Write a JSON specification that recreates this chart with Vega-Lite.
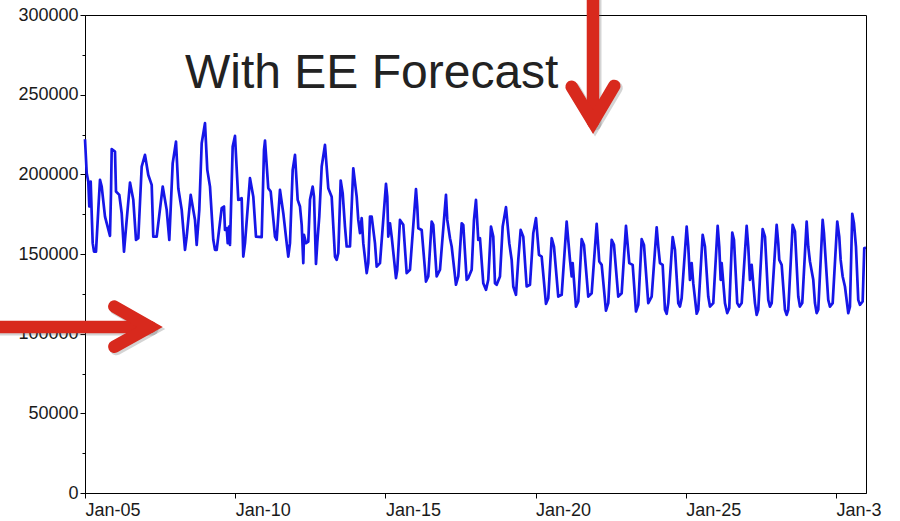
{
  "$schema": "https://vega.github.io/schema/vega-lite/v6.json",
  "width": 781,
  "height": 478,
  "autosize": "none",
  "padding": {"left": 85, "top": 15, "right": 34, "bottom": 28},
  "background": "white",
  "config": {
    "view": {"stroke": "#000", "strokeWidth": 1},
    "font": "Liberation Sans",
    "axis": {"labelFont": "Liberation Sans", "labelFontSize": 18, "labelColor": "#1a1a1a", "tickColor": "#000", "domainColor": "#000", "grid": false, "title": null}
  },
  "datasets": {
    "load": [
      {"t": "2015-01-05T00:00:00Z", "v": 222000}, {"t": "2015-01-05T01:22:00Z", "v": 200700}, {"t": "2015-01-05T02:38:00Z", "v": 195400}, {"t": "2015-01-05T03:26:00Z", "v": 179800}, {"t": "2015-01-05T04:33:00Z", "v": 195400}, {"t": "2015-01-05T05:21:00Z", "v": 175600}, {"t": "2015-01-05T06:09:00Z", "v": 156800}, {"t": "2015-01-05T07:11:00Z", "v": 151500}, {"t": "2015-01-05T08:47:00Z", "v": 151500}, {"t": "2015-01-05T10:37:00Z", "v": 177700}, {"t": "2015-01-05T11:59:00Z", "v": 196500}, {"t": "2015-01-05T13:21:00Z", "v": 192300}, {"t": "2015-01-05T15:59:00Z", "v": 173500}, {"t": "2015-01-05T19:58:00Z", "v": 161400}, {"t": "2015-01-05T20:46:00Z", "v": 188200}, {"t": "2015-01-05T21:20:00Z", "v": 215800}, {"t": "2015-01-05T23:58:00Z", "v": 214300},
      {"t": "2015-01-06T00:46:00Z", "v": 189200}, {"t": "2015-01-06T03:24:00Z", "v": 187100}, {"t": "2015-01-06T05:19:00Z", "v": 175600}, {"t": "2015-01-06T07:10:00Z", "v": 151500}, {"t": "2015-01-06T09:19:00Z", "v": 171400}, {"t": "2015-01-06T11:57:00Z", "v": 194800}, {"t": "2015-01-06T14:35:00Z", "v": 184000}, {"t": "2015-01-06T16:45:00Z", "v": 158900}, {"t": "2015-01-06T18:35:00Z", "v": 159900}, {"t": "2015-01-06T21:18:00Z", "v": 204900}, {"t": "2015-01-06T23:56:00Z", "v": 212200},
      {"t": "2015-01-07T02:34:00Z", "v": 199600}, {"t": "2015-01-07T05:17:00Z", "v": 193400}, {"t": "2015-01-07T06:34:00Z", "v": 160900}, {"t": "2015-01-07T09:17:00Z", "v": 160900}, {"t": "2015-01-07T14:05:00Z", "v": 192300}, {"t": "2015-01-07T17:16:00Z", "v": 177700}, {"t": "2015-01-07T19:21:00Z", "v": 158900}, {"t": "2015-01-07T22:04:00Z", "v": 207000},
      {"t": "2015-01-08T00:42:00Z", "v": 220500}, {"t": "2015-01-08T02:32:00Z", "v": 191300}, {"t": "2015-01-08T05:16:00Z", "v": 177700}, {"t": "2015-01-08T07:54:00Z", "v": 152600}, {"t": "2015-01-08T09:15:00Z", "v": 160900}, {"t": "2015-01-08T12:27:00Z", "v": 187100}, {"t": "2015-01-08T15:53:00Z", "v": 171400}, {"t": "2015-01-08T17:14:00Z", "v": 155700}, {"t": "2015-01-08T19:19:00Z", "v": 177700}, {"t": "2015-01-08T21:14:00Z", "v": 219500}, {"t": "2015-01-08T23:52:00Z", "v": 232100},
      {"t": "2015-01-09T01:43:00Z", "v": 202800}, {"t": "2015-01-09T03:52:00Z", "v": 192300}, {"t": "2015-01-09T06:30:00Z", "v": 158900}, {"t": "2015-01-09T07:52:00Z", "v": 152600}, {"t": "2015-01-09T09:13:00Z", "v": 152600}, {"t": "2015-01-09T13:13:00Z", "v": 178800}, {"t": "2015-01-09T15:03:00Z", "v": 179800}, {"t": "2015-01-09T15:51:00Z", "v": 165100}, {"t": "2015-01-09T17:13:00Z", "v": 166200}, {"t": "2015-01-09T18:01:00Z", "v": 156800}, {"t": "2015-01-09T19:03:00Z", "v": 167200}, {"t": "2015-01-09T19:51:00Z", "v": 155700}, {"t": "2015-01-09T22:00:00Z", "v": 217400}, {"t": "2015-01-09T23:50:00Z", "v": 224100},
      {"t": "2015-01-10T02:29:00Z", "v": 184000}, {"t": "2015-01-10T05:11:00Z", "v": 185000}, {"t": "2015-01-10T06:28:00Z", "v": 148400}, {"t": "2015-01-10T07:50:00Z", "v": 156800}, {"t": "2015-01-10T11:49:00Z", "v": 197600}, {"t": "2015-01-10T14:28:00Z", "v": 186000}, {"t": "2015-01-10T16:37:00Z", "v": 160900}, {"t": "2015-01-10T21:10:00Z", "v": 160600}, {"t": "2015-01-10T23:01:00Z", "v": 215300}, {"t": "2015-01-10T23:49:00Z", "v": 221200},
      {"t": "2015-01-11T02:26:00Z", "v": 191300}, {"t": "2015-01-11T04:22:00Z", "v": 189200}, {"t": "2015-01-11T07:48:00Z", "v": 160900}, {"t": "2015-01-11T09:09:00Z", "v": 158900}, {"t": "2015-01-11T11:47:00Z", "v": 190200}, {"t": "2015-01-11T14:26:00Z", "v": 175600}, {"t": "2015-01-11T17:08:00Z", "v": 156800}, {"t": "2015-01-11T18:25:00Z", "v": 148400}, {"t": "2015-01-11T19:47:00Z", "v": 156800}, {"t": "2015-01-11T21:56:00Z", "v": 202800}, {"t": "2015-01-11T23:47:00Z", "v": 212200},
      {"t": "2015-01-12T01:56:00Z", "v": 184000}, {"t": "2015-01-12T03:46:00Z", "v": 179800}, {"t": "2015-01-12T05:08:00Z", "v": 168300}, {"t": "2015-01-12T06:25:00Z", "v": 144300}, {"t": "2015-01-12T06:58:00Z", "v": 162000}, {"t": "2015-01-12T08:34:00Z", "v": 156800}, {"t": "2015-01-12T10:24:00Z", "v": 157800}, {"t": "2015-01-12T11:46:00Z", "v": 184000}, {"t": "2015-01-12T13:55:00Z", "v": 192300}, {"t": "2015-01-12T14:58:00Z", "v": 186000}, {"t": "2015-01-12T16:33:00Z", "v": 143800}, {"t": "2015-01-12T17:35:00Z", "v": 156800}, {"t": "2015-01-12T19:11:00Z", "v": 173500}, {"t": "2015-01-12T21:07:00Z", "v": 204900}, {"t": "2015-01-12T23:44:00Z", "v": 218500},
      {"t": "2015-01-13T02:23:00Z", "v": 191300}, {"t": "2015-01-13T05:05:00Z", "v": 186000}, {"t": "2015-01-13T07:44:00Z", "v": 148400}, {"t": "2015-01-13T09:05:00Z", "v": 146300}, {"t": "2015-01-13T10:22:00Z", "v": 150500}, {"t": "2015-01-13T12:17:00Z", "v": 196100}, {"t": "2015-01-13T13:53:00Z", "v": 188200}, {"t": "2015-01-13T15:43:00Z", "v": 167200}, {"t": "2015-01-13T17:05:00Z", "v": 154700}, {"t": "2015-01-13T19:43:00Z", "v": 154700}, {"t": "2015-01-13T22:21:00Z", "v": 203800},
      {"t": "2015-01-14T01:04:00Z", "v": 186000}, {"t": "2015-01-14T02:21:00Z", "v": 171400}, {"t": "2015-01-14T03:43:00Z", "v": 163100}, {"t": "2015-01-14T05:04:00Z", "v": 172500}, {"t": "2015-01-14T06:21:00Z", "v": 156800}, {"t": "2015-01-14T09:04:00Z", "v": 138000}, {"t": "2015-01-14T10:20:00Z", "v": 144300}, {"t": "2015-01-14T11:42:00Z", "v": 173500}, {"t": "2015-01-14T13:03:00Z", "v": 173500}, {"t": "2015-01-14T15:41:00Z", "v": 156800}, {"t": "2015-01-14T17:03:00Z", "v": 142100}, {"t": "2015-01-14T19:41:00Z", "v": 144300},
      {"t": "2015-01-15T00:29:00Z", "v": 194000}, {"t": "2015-01-15T01:31:00Z", "v": 186000}, {"t": "2015-01-15T02:19:00Z", "v": 160900}, {"t": "2015-01-15T03:40:00Z", "v": 169300}, {"t": "2015-01-15T05:02:00Z", "v": 160900}, {"t": "2015-01-15T08:28:00Z", "v": 134900}, {"t": "2015-01-15T09:30:00Z", "v": 140100}, {"t": "2015-01-15T11:40:00Z", "v": 171400}, {"t": "2015-01-15T14:18:00Z", "v": 168300}, {"t": "2015-01-15T17:01:00Z", "v": 138000}, {"t": "2015-01-15T19:39:00Z", "v": 140100},
      {"t": "2015-01-16T00:27:00Z", "v": 190700}, {"t": "2015-01-16T01:29:00Z", "v": 179800}, {"t": "2015-01-16T02:17:00Z", "v": 166200}, {"t": "2015-01-16T05:00:00Z", "v": 165100}, {"t": "2015-01-16T08:26:00Z", "v": 132700}, {"t": "2015-01-16T10:16:00Z", "v": 135900}, {"t": "2015-01-16T12:59:00Z", "v": 170400}, {"t": "2015-01-16T14:16:00Z", "v": 168300}, {"t": "2015-01-16T16:59:00Z", "v": 135900}, {"t": "2015-01-16T19:37:00Z", "v": 140100},
      {"t": "2015-01-17T00:25:00Z", "v": 187100}, {"t": "2015-01-17T01:27:00Z", "v": 171400}, {"t": "2015-01-17T03:37:00Z", "v": 159900}, {"t": "2015-01-17T04:58:00Z", "v": 154700}, {"t": "2015-01-17T08:24:00Z", "v": 130700}, {"t": "2015-01-17T10:14:00Z", "v": 135900}, {"t": "2015-01-17T12:58:00Z", "v": 169300}, {"t": "2015-01-17T14:14:00Z", "v": 168300}, {"t": "2015-01-17T16:57:00Z", "v": 133800}, {"t": "2015-01-17T18:14:00Z", "v": 134900}, {"t": "2015-01-17T20:57:00Z", "v": 140100}, {"t": "2015-01-17T22:47:00Z", "v": 171400},
      {"t": "2015-01-18T00:23:00Z", "v": 184000}, {"t": "2015-01-18T02:13:00Z", "v": 158900}, {"t": "2015-01-18T03:35:00Z", "v": 159900}, {"t": "2015-01-18T06:13:00Z", "v": 131700}, {"t": "2015-01-18T08:22:00Z", "v": 127500}, {"t": "2015-01-18T10:12:00Z", "v": 133800}, {"t": "2015-01-18T12:22:00Z", "v": 167200}, {"t": "2015-01-18T14:12:00Z", "v": 160900}, {"t": "2015-01-18T15:34:00Z", "v": 131700}, {"t": "2015-01-18T16:55:00Z", "v": 130700}, {"t": "2015-01-18T19:33:00Z", "v": 135900}, {"t": "2015-01-18T21:43:00Z", "v": 167200},
      {"t": "2015-01-19T00:21:00Z", "v": 179400}, {"t": "2015-01-19T02:59:00Z", "v": 156800}, {"t": "2015-01-19T04:54:00Z", "v": 146300}, {"t": "2015-01-19T06:11:00Z", "v": 129600}, {"t": "2015-01-19T08:20:00Z", "v": 124400}, {"t": "2015-01-19T10:10:00Z", "v": 146300}, {"t": "2015-01-19T12:05:00Z", "v": 165100}, {"t": "2015-01-19T14:10:00Z", "v": 160900}, {"t": "2015-01-19T16:53:00Z", "v": 129600}, {"t": "2015-01-19T19:31:00Z", "v": 130700}, {"t": "2015-01-19T22:10:00Z", "v": 163100},
      {"t": "2015-01-20T00:19:00Z", "v": 172500}, {"t": "2015-01-20T02:43:00Z", "v": 149500}, {"t": "2015-01-20T04:52:00Z", "v": 148400}, {"t": "2015-01-20T08:19:00Z", "v": 118700}, {"t": "2015-01-20T10:08:00Z", "v": 122300}, {"t": "2015-01-20T12:52:00Z", "v": 159900}, {"t": "2015-01-20T14:42:00Z", "v": 154700}, {"t": "2015-01-20T18:08:00Z", "v": 123300}, {"t": "2015-01-20T20:51:00Z", "v": 124400},
      {"t": "2015-01-21T00:50:00Z", "v": 170400}, {"t": "2015-01-21T03:29:00Z", "v": 146300}, {"t": "2015-01-21T04:50:00Z", "v": 135900}, {"t": "2015-01-21T05:38:00Z", "v": 144300}, {"t": "2015-01-21T08:16:00Z", "v": 117000}, {"t": "2015-01-21T10:07:00Z", "v": 120200}, {"t": "2015-01-21T12:50:00Z", "v": 159300}, {"t": "2015-01-21T14:40:00Z", "v": 155700}, {"t": "2015-01-21T18:06:00Z", "v": 123300}, {"t": "2015-01-21T20:49:00Z", "v": 125400},
      {"t": "2015-01-22T00:49:00Z", "v": 168900}, {"t": "2015-01-22T02:53:00Z", "v": 145300}, {"t": "2015-01-22T04:49:00Z", "v": 143200}, {"t": "2015-01-22T08:14:00Z", "v": 114500}, {"t": "2015-01-22T10:05:00Z", "v": 119200}, {"t": "2015-01-22T12:48:00Z", "v": 158900}, {"t": "2015-01-22T14:38:00Z", "v": 155700}, {"t": "2015-01-22T18:04:00Z", "v": 123300}, {"t": "2015-01-22T20:47:00Z", "v": 125400},
      {"t": "2015-01-23T00:14:00Z", "v": 167700}, {"t": "2015-01-23T02:52:00Z", "v": 144300}, {"t": "2015-01-23T05:35:00Z", "v": 143200}, {"t": "2015-01-23T08:13:00Z", "v": 113900}, {"t": "2015-01-23T10:03:00Z", "v": 118100}, {"t": "2015-01-23T12:46:00Z", "v": 159300}, {"t": "2015-01-23T14:36:00Z", "v": 155700}, {"t": "2015-01-23T18:02:00Z", "v": 119200}, {"t": "2015-01-23T20:45:00Z", "v": 123300},
      {"t": "2015-01-24T00:45:00Z", "v": 166800}, {"t": "2015-01-24T02:02:00Z", "v": 154700}, {"t": "2015-01-24T03:23:00Z", "v": 144300}, {"t": "2015-01-24T05:32:00Z", "v": 143200}, {"t": "2015-01-24T07:23:00Z", "v": 115000}, {"t": "2015-01-24T08:44:00Z", "v": 112500}, {"t": "2015-01-24T10:01:00Z", "v": 119200}, {"t": "2015-01-24T13:32:00Z", "v": 160600}, {"t": "2015-01-24T15:22:00Z", "v": 152600}, {"t": "2015-01-24T18:01:00Z", "v": 119200}, {"t": "2015-01-24T19:22:00Z", "v": 117000}, {"t": "2015-01-24T20:43:00Z", "v": 122300},
      {"t": "2015-01-25T00:43:00Z", "v": 167200}, {"t": "2015-01-25T02:00:00Z", "v": 154700}, {"t": "2015-01-25T03:21:00Z", "v": 133800}, {"t": "2015-01-25T04:43:00Z", "v": 144300}, {"t": "2015-01-25T05:59:00Z", "v": 131700}, {"t": "2015-01-25T08:43:00Z", "v": 112500}, {"t": "2015-01-25T09:59:00Z", "v": 115000}, {"t": "2015-01-25T13:30:00Z", "v": 162000}, {"t": "2015-01-25T15:20:00Z", "v": 154700}, {"t": "2015-01-25T17:58:00Z", "v": 123300}, {"t": "2015-01-25T19:20:00Z", "v": 117000}, {"t": "2015-01-25T21:58:00Z", "v": 119200},
      {"t": "2015-01-26T01:29:00Z", "v": 167700}, {"t": "2015-01-26T02:46:00Z", "v": 154700}, {"t": "2015-01-26T03:53:00Z", "v": 133800}, {"t": "2015-01-26T04:41:00Z", "v": 144300}, {"t": "2015-01-26T07:19:00Z", "v": 119200}, {"t": "2015-01-26T09:09:00Z", "v": 112900}, {"t": "2015-01-26T10:45:00Z", "v": 116000}, {"t": "2015-01-26T13:09:00Z", "v": 163500}, {"t": "2015-01-26T14:31:00Z", "v": 158900}, {"t": "2015-01-26T17:08:00Z", "v": 119200}, {"t": "2015-01-26T18:44:00Z", "v": 117000}, {"t": "2015-01-26T20:40:00Z", "v": 119200},
      {"t": "2015-01-27T00:39:00Z", "v": 167700}, {"t": "2015-01-27T01:56:00Z", "v": 154700}, {"t": "2015-01-27T03:17:00Z", "v": 133800}, {"t": "2015-01-27T04:39:00Z", "v": 143200}, {"t": "2015-01-27T07:17:00Z", "v": 119200}, {"t": "2015-01-27T08:38:00Z", "v": 111800}, {"t": "2015-01-27T09:55:00Z", "v": 115000}, {"t": "2015-01-27T13:26:00Z", "v": 165600}, {"t": "2015-01-27T15:17:00Z", "v": 160900}, {"t": "2015-01-27T17:55:00Z", "v": 121200}, {"t": "2015-01-27T19:16:00Z", "v": 117000}, {"t": "2015-01-27T20:38:00Z", "v": 119200},
      {"t": "2015-01-28T00:37:00Z", "v": 168300}, {"t": "2015-01-28T01:54:00Z", "v": 156800}, {"t": "2015-01-28T02:42:00Z", "v": 146300}, {"t": "2015-01-28T04:37:00Z", "v": 143200}, {"t": "2015-01-28T07:15:00Z", "v": 115000}, {"t": "2015-01-28T08:37:00Z", "v": 111800}, {"t": "2015-01-28T09:53:00Z", "v": 115000}, {"t": "2015-01-28T13:24:00Z", "v": 168300}, {"t": "2015-01-28T15:14:00Z", "v": 164100}, {"t": "2015-01-28T17:53:00Z", "v": 123300}, {"t": "2015-01-28T19:14:00Z", "v": 117000}, {"t": "2015-01-28T21:04:00Z", "v": 119200},
      {"t": "2015-01-29T00:35:00Z", "v": 170400}, {"t": "2015-01-29T01:52:00Z", "v": 154700}, {"t": "2015-01-29T03:13:00Z", "v": 145300}, {"t": "2015-01-29T05:52:00Z", "v": 133800}, {"t": "2015-01-29T07:13:00Z", "v": 119200}, {"t": "2015-01-29T08:34:00Z", "v": 112900}, {"t": "2015-01-29T09:51:00Z", "v": 115000}, {"t": "2015-01-29T13:22:00Z", "v": 171400}, {"t": "2015-01-29T14:25:00Z", "v": 163100}, {"t": "2015-01-29T17:50:00Z", "v": 121200}, {"t": "2015-01-29T19:12:00Z", "v": 117000}, {"t": "2015-01-29T21:22:00Z", "v": 119200},
      {"t": "2015-01-30T01:02:00Z", "v": 170400}, {"t": "2015-01-30T02:38:00Z", "v": 160900}, {"t": "2015-01-30T03:45:00Z", "v": 146300}, {"t": "2015-01-30T05:21:00Z", "v": 135900}, {"t": "2015-01-30T07:11:00Z", "v": 129600}, {"t": "2015-01-30T09:49:00Z", "v": 112900}, {"t": "2015-01-30T11:11:00Z", "v": 117000}, {"t": "2015-01-30T13:01:00Z", "v": 175200}, {"t": "2015-01-30T14:23:00Z", "v": 169300}, {"t": "2015-01-30T15:59:00Z", "v": 154700}, {"t": "2015-01-30T17:49:00Z", "v": 121200}, {"t": "2015-01-30T19:10:00Z", "v": 118100}, {"t": "2015-01-30T21:20:00Z", "v": 120200}, {"t": "2015-01-30T22:37:00Z", "v": 153700}, {"t": "2015-01-30T23:58:00Z", "v": 153800}
    ],
    "arrows": [
      {"seg": "h-shaft", "i": 0, "t": "2015-01-01T20:06:00Z", "v": 104200},
      {"seg": "h-shaft", "i": 1, "t": "2015-01-07T03:56:00Z", "v": 104200},
      {"seg": "h-head", "i": 0, "t": "2015-01-05T23:25:00Z", "v": 117000},
      {"seg": "h-head", "i": 1, "t": "2015-01-07T03:56:00Z", "v": 104200},
      {"seg": "h-head", "i": 2, "t": "2015-01-05T23:25:00Z", "v": 91800},
      {"seg": "v-shaft", "i": 0, "t": "2015-01-21T21:52:00Z", "v": 315700},
      {"seg": "v-shaft", "i": 1, "t": "2015-01-21T21:52:00Z", "v": 232900},
      {"seg": "v-head", "i": 0, "t": "2015-01-21T04:50:00Z", "v": 255000},
      {"seg": "v-head", "i": 1, "t": "2015-01-21T21:52:00Z", "v": 232900},
      {"seg": "v-head", "i": 2, "t": "2015-01-22T14:52:00Z", "v": 255500}
    ]
  },
  "layer": [
    {
      "data": {"name": "load"},
      "mark": {"type": "line", "color": "#1616e8", "strokeWidth": 2.7, "strokeJoin": "round"},
      "encoding": {
        "x": {
          "field": "t", "type": "temporal",
          "scale": {"type": "utc", "domain": [{"year": 2015, "month": 1, "date": 5, "utc": true}, {"year": 2015, "month": 1, "date": 31, "utc": true}], "nice": false},
          "axis": {
            "values": [
              {"year": 2015, "month": 1, "date": 5, "utc": true},
              {"year": 2015, "month": 1, "date": 10, "utc": true},
              {"year": 2015, "month": 1, "date": 15, "utc": true},
              {"year": 2015, "month": 1, "date": 20, "utc": true},
              {"year": 2015, "month": 1, "date": 25, "utc": true},
              {"year": 2015, "month": 1, "date": 30, "utc": true}
            ],
            "labelExpr": "utcdate(datum.value) == 30 ? 'Jan-3' : utcFormat(datum.value, '%b-%d')",
            "labelAlign": "left", "labelPadding": 3, "tickSize": 5, "orient": "bottom",
            "labelOverlap": false, "labelFlush": false, "labelBound": false
          }
        },
        "y": {
          "field": "v", "type": "quantitative",
          "scale": {"domain": [0, 300000], "nice": false, "zero": true},
          "axis": {"values": [0, 50000, 100000, 150000, 200000, 250000, 300000], "format": "d", "tickSize": 5, "labelPadding": 2, "orient": "left"}
        }
      }
    },
    {
      "data": {"values": [{}]},
      "mark": {"type": "text", "text": "With EE Forecast", "align": "left", "baseline": "alphabetic", "font": "Liberation Sans", "fontSize": 48, "color": "#222222"},
      "encoding": {
        "x": {"datum": {"year": 2015, "month": 1, "date": 8, "hours": 7, "minutes": 53, "utc": true}, "type": "temporal", "axis": null},
        "y": {"datum": 253900, "type": "quantitative", "axis": null}
      }
    },
    {
      "data": {"name": "arrows"},
      "mark": {"type": "line", "color": "#555555", "opacity": 0.25, "strokeWidth": 13, "strokeCap": "round", "strokeJoin": "miter", "xOffset": 2, "yOffset": 2},
      "encoding": {
        "x": {"field": "t", "type": "temporal", "axis": null},
        "y": {"field": "v", "type": "quantitative", "axis": {"values": [25000, 75000, 125000, 175000, 225000, 275000], "labels": false, "domain": false, "tickSize": 3, "orient": "left"}},
        "detail": {"field": "seg"},
        "order": {"field": "i", "type": "quantitative"}
      }
    },
    {
      "data": {"name": "arrows"},
      "mark": {"type": "line", "color": "#d8291d", "strokeWidth": 12.5, "strokeCap": "round", "strokeJoin": "miter"},
      "encoding": {
        "x": {"field": "t", "type": "temporal", "axis": null},
        "y": {"field": "v", "type": "quantitative", "axis": null},
        "detail": {"field": "seg"},
        "order": {"field": "i", "type": "quantitative"}
      }
    }
  ],
  "resolve": {"axis": {"x": "independent", "y": "independent"}}
}
